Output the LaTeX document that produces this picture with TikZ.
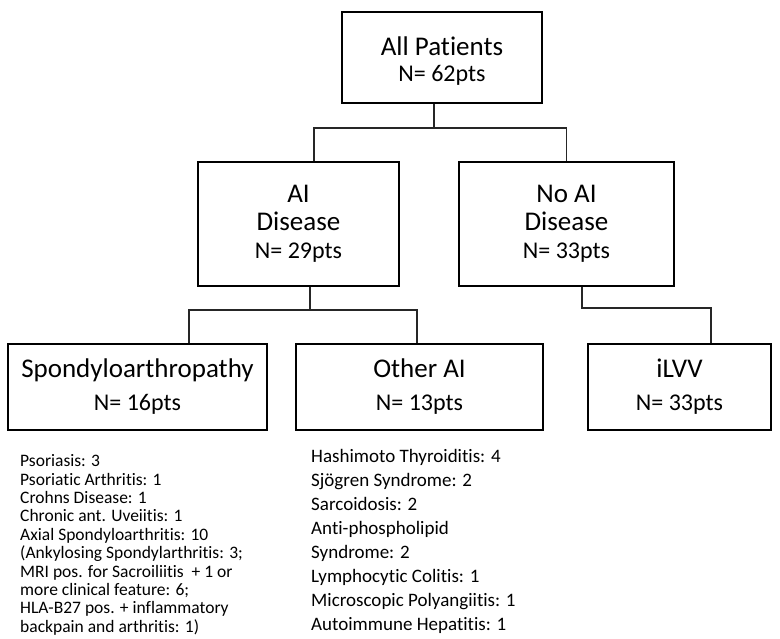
\documentclass[tikz,border=0pt]{standalone}
\usepackage{fontspec}
\setmainfont{Carlito}[Ligatures=NoCommon]
\newcommand{\nline}[1]{{\fontsize{24}{28}\selectfont #1}}
\begin{document}
\begin{tikzpicture}[x=1pt,y=-1pt,
  box/.style={draw=black,line width=1.3pt,inner sep=0pt,align=center,
    font=\fontsize{27}{28}\selectfont},
  boxtxt/.style={inner sep=0pt,align=center,font=\fontsize{27}{28}\selectfont},
  conn/.style={draw=black!85,line width=1.3pt},
  listtxt/.style={anchor=north west,align=left,inner sep=0pt}]
\useasboundingbox (0,0) rectangle (780,639);
\node[box,minimum width=200pt,minimum height=91pt] (all) at (442,57.5) {};
\node[boxtxt] (alltxt) at (442,61) {All Patients\\[-2pt]\nline{N= 62pts}};
\node[box,minimum width=201pt,minimum height=124pt] (ai) at (298.5,224)
  {AI\\Disease\\\nline{N= 29pts}};
\node[box,minimum width=215pt,minimum height=124pt] (noai) at (566.5,224)
  {No AI\\Disease\\\nline{N= 33pts}};
\node[box,minimum width=259pt,minimum height=86pt] (spa) at (137.5,387)
  {Spondyloarthropathy\\[5pt]\nline{N= 16pts}};
\node[box,minimum width=247pt,minimum height=86pt] (oth) at (419.5,387)
  {Other AI\\[5pt]\nline{N= 13pts}};
\node[box,minimum width=183pt,minimum height=86pt] (ilvv) at (679.5,387)
  {iLVV\\[5pt]\nline{N= 33pts}};
% connectors
\coordinate (j0) at (434,128);
\draw[conn] (all.south -| j0) -- (j0);
\draw[conn] (ai.north -| 314,0) |- (j0) -| (noai.north);
\coordinate (j1) at (310,310);
\draw[conn] (ai.south -| j1) -- (j1);
\draw[conn] (spa.north -| 189,0) |- (j1) -| (oth.north -| 417,0);
\coordinate (j2) at (582,308);
\draw[conn] (noai.south -| j2) -- (j2) -| (ilvv.north -| 711,0);
% lists
\node[listtxt,font=\fontsize{17.5}{18.4}\selectfont] (spalist) at (20,454.5)
  {Psoriasis: 3\\ Psoriatic Arthritis: 1\\ Crohns Disease: 1\\ Chronic ant. Uveiitis: 1\\
   Axial Spondyloarthritis: 10\\ (Ankylosing Spondylarthritis: 3;\\
   MRI pos. for Sacroiliitis\ \ + 1 or\\ more clinical feature: 6;\\
   HLA-B27 pos. + inflammatory\\ backpain and arthritis: 1)};
\node[listtxt,font=\fontsize{19}{24}\selectfont] (othlist) at (311,449.5)
  {Hashimoto Thyroiditis: 4\\ Sjögren Syndrome: 2\\ Sarcoidosis: 2\\ Anti-phospholipid\\
   Syndrome: 2\\ Lymphocytic Colitis: 1\\ Microscopic Polyangiitis: 1\\ Autoimmune Hepatitis: 1};
\end{tikzpicture}
\end{document}
